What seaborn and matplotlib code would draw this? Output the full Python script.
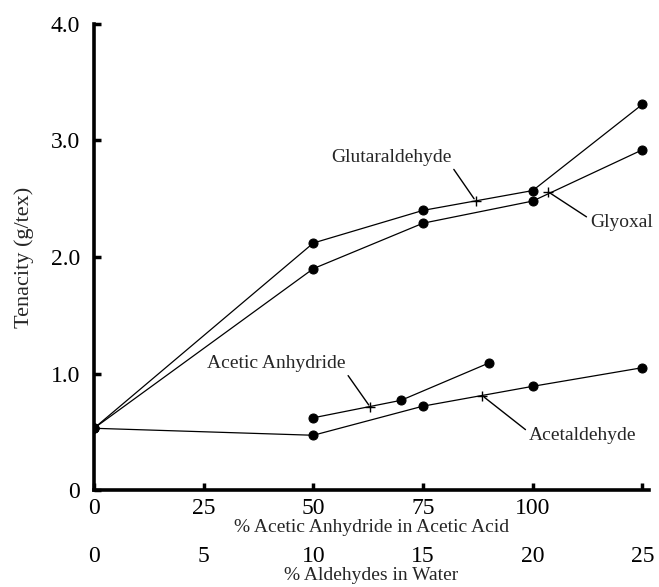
import numpy as np
import pandas as pd
import matplotlib
matplotlib.use('Agg')
import matplotlib.pyplot as plt
import seaborn as sns

# aldehydes plotted against % aldehyde in water (lower scale)
aldehyde_pct = [0, 10, 15, 20, 25]
glutaraldehyde = [0.53, 2.12, 2.40, 2.57, 3.31]
glyoxal = [0.53, 1.90, 2.29, 2.48, 2.92]
acetaldehyde = [0.53, 0.47, 0.72, 0.89, 1.05]

# acetic anhydride plotted against % anhydride in acetic acid (upper scale)
anhydride_pct = [50, 70, 90]
acetic_anhydride = [0.62, 0.77, 1.09]

# where each curve is labelled (cross marks), on the anhydride scale
label_names = ['Glutaraldehyde', 'Glyoxal', 'Acetic Anhydride', 'Acetaldehyde']
label_x = [87, 103.5, 63, 88.5]
label_y = [2.48, 2.56, 0.71, 0.81]

anhydride_ticks = [0, 25, 50, 75, 100, 125]
anhydride_ticklabels = ['0', '25', '50', '75', '100', '']
aldehyde_ticks = [0, 5, 10, 15, 20, 25]
tenacity_ticks = [0, 1, 2, 3, 4]
tenacity_ticklabels = ['0', '1.0', '2.0', '3.0', '4.0']

sns.set_theme(style="white")
plt.rcParams['font.family'] = ['Liberation Serif', 'DejaVu Serif']

fig = plt.figure(figsize=(6.59, 5.87), dpi=100)
ax = fig.add_axes([0.1426, 0.1652, 0.8422, 0.794])

scale = 5  # 1 % aldehyde == 5 % anhydride on the shared axis
df = pd.concat([
    pd.DataFrame({'x': np.array(aldehyde_pct) * scale, 'y': glutaraldehyde, 'series': 'Glutaraldehyde'}),
    pd.DataFrame({'x': np.array(aldehyde_pct) * scale, 'y': glyoxal, 'series': 'Glyoxal'}),
    pd.DataFrame({'x': np.array(aldehyde_pct) * scale, 'y': acetaldehyde, 'series': 'Acetaldehyde'}),
    pd.DataFrame({'x': anhydride_pct, 'y': acetic_anhydride, 'series': 'Acetic Anhydride'}),
])

for name, grp in df.groupby('series'):
    sns.lineplot(data=grp, x='x', y='y', ax=ax, color='black', linewidth=0.9,
                 marker='o', markersize=6.5, markeredgecolor='black',
                 estimator=None, sort=False)

sns.scatterplot(x=label_x, y=label_y, ax=ax, marker='+', s=60, color='black',
                linewidth=1.0, zorder=4)

# labels with leader lines
text_pos = {
    'Glutaraldehyde': (81.5, 2.78, 'right', 'bottom', (1, 0)),
    'Glyoxal': (113, 2.37, 'left', 'top', (0, 0.7)),
    'Acetic Anhydride': (57.4, 1.01, 'right', 'bottom', (1, 0)),
    'Acetaldehyde': (99.1, 0.54, 'left', 'top', (0, 0.7)),
}
for name, x, y in zip(label_names, label_x, label_y):
    tx, ty, ha, va, rp = text_pos[name]
    ax.annotate(name, xy=(x, y), xytext=(tx, ty), ha=ha, va=va, fontsize=14,
                arrowprops=dict(arrowstyle='-', color='black', lw=1.0,
                                shrinkA=0, shrinkB=2, relpos=rp))

ax.set_xlim(0, 126.5)
ax.set_ylim(0, 4.0)
ax.set_xticks(anhydride_ticks)
ax.set_xticklabels(anhydride_ticklabels)
ax.set_yticks(tenacity_ticks)
ax.set_yticklabels(tenacity_ticklabels)
ax.tick_params(axis='both', direction='in', length=5, width=2.5, labelsize=17,
               colors='black', pad=6, bottom=True, left=True)
ax.tick_params(axis='y', pad=10)
sns.despine(ax=ax)
for s in ['left', 'bottom']:
    ax.spines[s].set_linewidth(2.6)
    ax.spines[s].set_color('black')

ax.set_xlabel('% Acetic Anhydride in Acetic Acid', fontsize=14, labelpad=0)
ax.set_ylabel('Tenacity (g/tex)', fontsize=16, labelpad=12)

sec = ax.secondary_xaxis(-0.112, functions=(lambda v: v / scale, lambda v: v * scale))
sec.set_xticks(aldehyde_ticks)
sec.set_xticklabels([str(t) for t in aldehyde_ticks])
sec.tick_params(length=0, labelsize=17, pad=3, colors='black')
sec.spines['bottom'].set_visible(False)
sec.set_xlabel('% Aldehydes in Water', fontsize=14, labelpad=0)

fig.savefig('out.png', dpi=100)
